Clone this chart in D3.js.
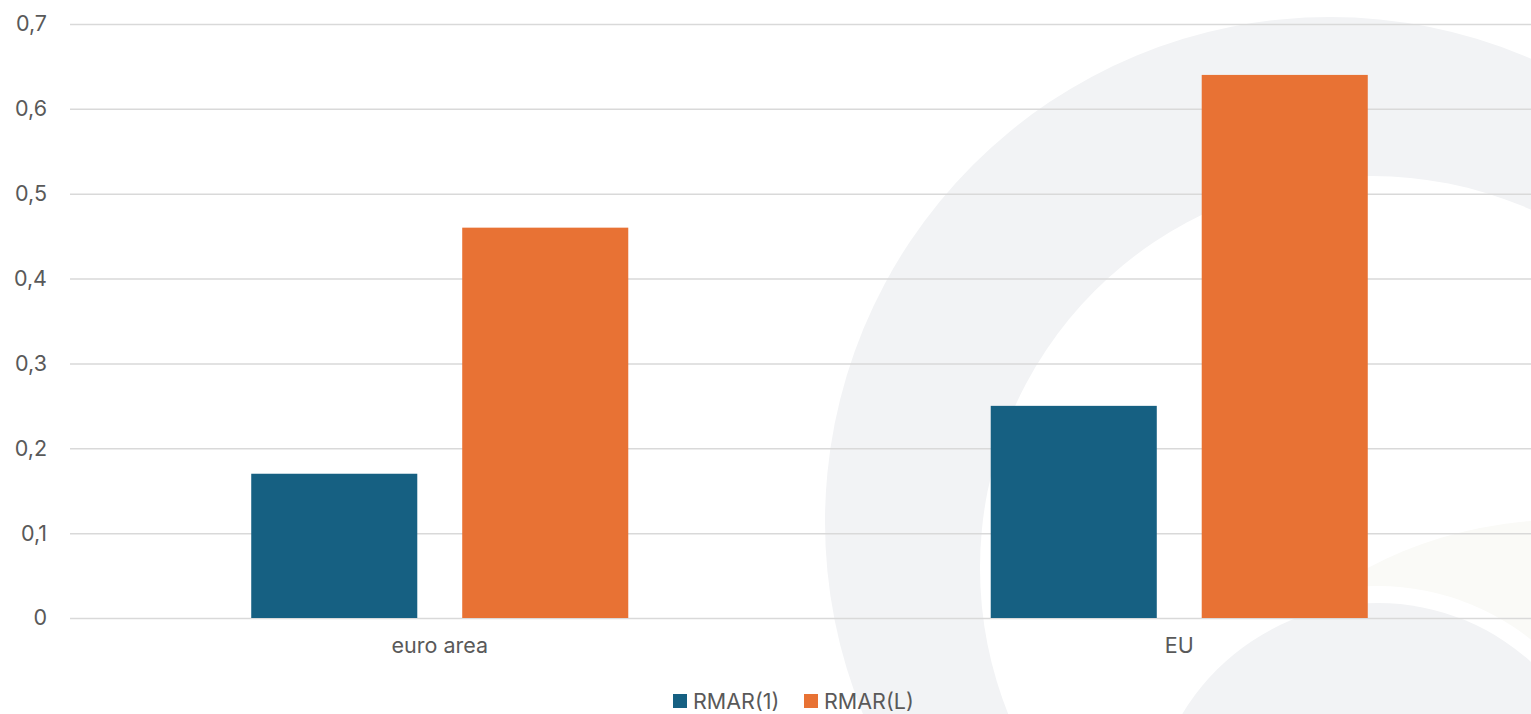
<!DOCTYPE html>
<html>
<head>
<meta charset="utf-8">
<script src="https://cdn.jsdelivr.net/npm/d3@7"></script>
<style>
  body { margin: 0; background: #fff; }
  svg text { font-family: Inter, "Open Sans", sans-serif; fill: #595959; }
</style>
</head>
<body>
<svg id="chart"></svg>
<script>
const categories = ["euro area", "EU"];
const series = ["RMAR(1)", "RMAR(L)"];
const rmar1 = [0.17, 0.25];
const rmarL = [0.46, 0.64];
const yTicks = [0, 0.1, 0.2, 0.3, 0.4, 0.5, 0.6, 0.7];
const colors = ["#166082", "#e87234"];

const width = 1531, height = 714;
const fontSize = 21.5;
const svg = d3.select("#chart").attr("width", width).attr("height", height);

// faint background watermark
function addCircle(cx, cy, r, fill) {
    svg.append("circle").attr("cx", cx).attr("cy", cy).attr("r", r).attr("fill", fill);
}
addCircle(1330, 522, 505, "#f2f3f5");
addCircle(1372, 568, 392, "#ffffff");
addCircle(1560, 930, 410, "#fafaf7");
addCircle(1378, 831, 245, "#ffffff");
addCircle(1378, 831, 228, "#f2f3f5");

const x0 = d3.scaleBand().domain(categories).range([70, 1549]).padding(0);
const x1 = d3.scaleBand().domain(series).range([0, x0.bandwidth()])
    .paddingInner(0.213).paddingOuter(0.859);
const y = d3.scaleLinear().domain([0, 0.7]).range([618, 24]);

const fmt = d => d === 0 ? "0" : d3.format(".1f")(d).replace(".", ",");

// gridlines + y labels
svg.append("g")
    .attr("transform", "translate(70,0)")
    .call(d3.axisLeft(y)
        .tickValues(yTicks)
        .tickSize(-(1549 - 70))
        .tickPadding(23)
        .tickFormat(fmt))
    .call(g => g.select(".domain").remove())
    .call(g => g.selectAll(".tick line").attr("stroke", "#d9d9d9").attr("stroke-width", 1.5))
    .call(g => g.selectAll(".tick text").attr("font-size", fontSize).style("fill", "#595959"));

// bars
const values = [rmar1, rmarL];
series.forEach((s, si) => {
    svg.append("g").selectAll("rect")
        .data(categories)
        .join("rect")
            .attr("x", c => x0(c) + x1(s))
            .attr("width", x1.bandwidth())
            .attr("y", (c, i) => y(values[si][i]))
            .attr("height", (c, i) => y(0) - y(values[si][i]))
            .attr("fill", colors[si]);
});

// category labels
svg.append("g")
    .attr("transform", "translate(0,618)")
    .call(d3.axisBottom(x0).tickSize(0).tickPadding(20))
    .call(g => g.select(".domain").remove())
    .call(g => g.selectAll(".tick text").attr("font-size", fontSize).style("fill", "#595959"));

// legend
const legend = svg.append("g");
const legendX = [673, 804];
series.forEach((s, i) => {
    legend.append("rect")
        .attr("x", legendX[i]).attr("y", 694)
        .attr("width", 14).attr("height", 14)
        .attr("fill", colors[i]);
    legend.append("text")
        .attr("x", legendX[i] + 20).attr("y", 701)
        .attr("dy", "0.35em")
        .attr("font-size", fontSize)
        .text(s);
});
</script>
</body>
</html>
